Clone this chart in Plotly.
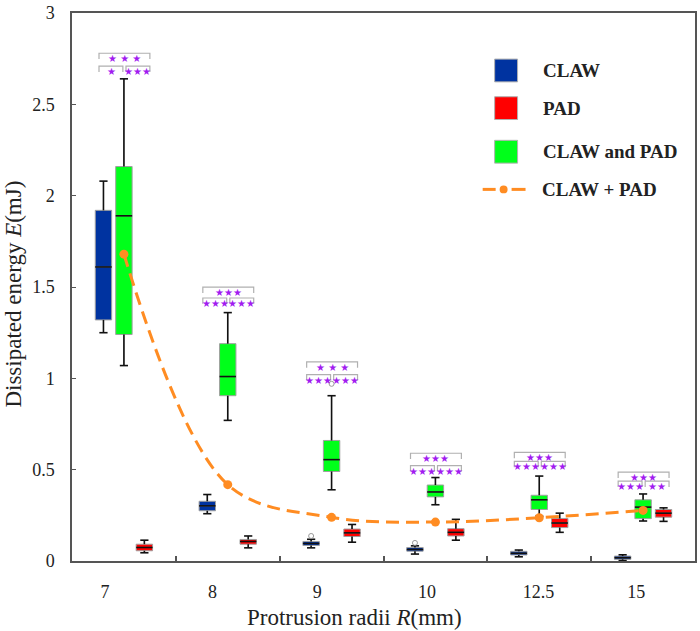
import plotly.graph_objects as go

# ---------------- data ----------------
categories = ["7", "8", "9", "10", "12.5", "15"]

claw_lower  = [1.25, 0.259, 0.072, 0.038, 0.023, 0.002]
claw_q1     = [1.32, 0.275, 0.085, 0.054, 0.033, 0.009]
claw_median = [1.61, 0.302, 0.096, 0.063, 0.042, 0.018]
claw_q3     = [1.92, 0.327, 0.107, 0.074, 0.053, 0.027]
claw_upper  = [2.08, 0.364, 0.119, 0.083, 0.060, 0.034]
claw_outliers = {"9": [0.137], "10": [0.099]}

both_lower  = [1.07, 0.77, 0.39, 0.308, 0.245, 0.219]
both_q1     = [1.24, 0.905, 0.49, 0.351, 0.282, 0.232]
both_median = [1.89, 1.01, 0.555, 0.378, 0.335, 0.295]
both_q3     = [2.16, 1.19, 0.66, 0.416, 0.360, 0.335]
both_upper  = [2.64, 1.36, 0.905, 0.457, 0.465, 0.367]
both_outliers = {"9": [0.97]}

pad_lower  = [0.045, 0.072, 0.103, 0.114, 0.157, 0.217]
pad_q1     = [0.056, 0.092, 0.134, 0.137, 0.183, 0.240]
pad_median = [0.074, 0.107, 0.154, 0.157, 0.208, 0.262]
pad_q3     = [0.092, 0.118, 0.175, 0.177, 0.233, 0.282]
pad_upper  = [0.114, 0.137, 0.200, 0.228, 0.262, 0.291]
pad_outliers = {}

claw_plus_pad = [1.68, 0.418, 0.239, 0.213, 0.237, 0.277]

sig_top   = ["★ ★ ★", "★★★", "★ ★ ★", "★★★", "★★★", "★★★"]
sig_left  = ["★", "★★★", "★★★", "★★★", "★★★", "★★★"]
sig_right = ["★★★", "★★★", "★★★", "★★★", "★★★", "★★"]
sig_top_level   = [2.78, 1.50, 1.09, 0.59, 0.595, 0.487]
sig_lower_level = [2.71, 1.44, 1.02, 0.522, 0.545, 0.437]

y_ticks = [0, 0.5, 1, 1.5, 2, 2.5, 3]
y_tick_labels = ["0", "0.5", "1", "1.5", "2", "2.5", "3"]

# ---------------- styling / layout constants ----------------
FONT = "Liberation Serif"
BLUE, GREEN, RED = "#0033A0", "#00FF1A", "#FF0000"
ORANGE = "#FF8C22"
PURPLE = "#A21CF0"
BOX_W = 0.158
OFFSET = 0.197
idx = list(range(len(categories)))
label_pos = [-0.183, 0.854, 1.862, 2.918, 3.993, 4.934]

fig = go.Figure()

series = [
    ("CLAW", BLUE, -OFFSET, claw_lower, claw_q1, claw_median, claw_q3, claw_upper, claw_outliers),
    ("CLAW and PAD", GREEN, 0.0, both_lower, both_q1, both_median, both_q3, both_upper, both_outliers),
    ("PAD", RED, OFFSET, pad_lower, pad_q1, pad_median, pad_q3, pad_upper, pad_outliers),
]

for name, color, off, lo, q1, med, q3, hi, outl in series:
    xs = [i + off for i in idx]
    fig.add_trace(go.Box(
        name=name, x=xs, q1=q1, median=med, q3=q3, lowerfence=lo, upperfence=hi,
        width=BOX_W, fillcolor=color, line=dict(color="#a0a0a0", width=1),
        whiskerwidth=0, boxpoints=False, showlegend=False, hoverinfo="skip",
    ))
    # black whiskers, caps and medians
    wx, wy = [], []
    for x, a, b, m, c, d in zip(xs, lo, q1, med, q3, hi):
        h = BOX_W / 4
        wx += [x, x, None, x, x, None, x - h, x + h, None, x - h, x + h, None,
               x - BOX_W / 2, x + BOX_W / 2, None]
        wy += [c, d, None, b, a, None, d, d, None, a, a, None, m, m, None]
    fig.add_trace(go.Scatter(x=wx, y=wy, mode="lines", line=dict(color="#111", width=1.6),
                             showlegend=False, hoverinfo="skip"))
    ox, oy = [], []
    for cat, vals in outl.items():
        k = categories.index(cat)
        for v in vals:
            ox.append(k + off)
            oy.append(v)
    if ox:
        fig.add_trace(go.Scatter(x=ox, y=oy, mode="markers",
                                 marker=dict(symbol="circle-open", size=5, color="#999",
                                             line=dict(width=1)),
                                 showlegend=False, hoverinfo="skip"))

fig.add_trace(go.Scatter(
    x=idx, y=claw_plus_pad, mode="lines+markers", name="CLAW + PAD",
    line=dict(color=ORANGE, width=3, dash="13px,7px", shape="spline", smoothing=1.0),
    marker=dict(size=9, color=ORANGE), showlegend=False, hoverinfo="skip",
))

shapes = []
annotations = []
LEG = 0.032
for i in idx:
    t, l = sig_top_level[i], sig_lower_level[i]
    for x0, x1, y in [(i - 0.24, i + 0.25, t), (i - 0.24, i - 0.01, l), (i + 0.02, i + 0.25, l)]:
        shapes.append(dict(type="path", xref="x", yref="y",
                           path=f"M {x0},{y - LEG} L {x0},{y} L {x1},{y} L {x1},{y - LEG}",
                           line=dict(color="#b0b0b0", width=1.2)))
    for x, y, txt in [(i + 0.005, t, sig_top[i]), (i - 0.122, l, sig_left[i]), (i + 0.135, l, sig_right[i])]:
        annotations.append(dict(x=x, y=y - 0.03, xref="x", yref="y", text=txt, showarrow=False,
                                font=dict(family="DejaVu Sans", size=10, color=PURPLE),
                                xanchor="center", yanchor="middle"))

# custom legend (paper coordinates)
def px_x(p):
    return (p - 72) / 625.0

def px_y(p):
    return (561 - p) / 553.0

legend_items = [("CLAW", BLUE, 66), ("PAD", RED, 104), ("CLAW and PAD", GREEN, 148)]
for txt, col, yc in legend_items:
    shapes.append(dict(type="rect", xref="paper", yref="paper",
                       x0=px_x(496), x1=px_x(519), y0=px_y(yc + 11.5), y1=px_y(yc - 11.5),
                       fillcolor=col, line=dict(color="#b0b0b0", width=1)))
    annotations.append(dict(x=px_x(543), y=px_y(yc), xref="paper", yref="paper", text=f"<b>{txt}</b>",
                            showarrow=False, xanchor="left", yanchor="middle",
                            font=dict(family=FONT, size=19, color="#222")))
yl = 186
shapes.append(dict(type="line", xref="paper", yref="paper", x0=px_x(484), x1=px_x(497),
                   y0=px_y(yl), y1=px_y(yl), line=dict(color=ORANGE, width=3)))
shapes.append(dict(type="line", xref="paper", yref="paper", x0=px_x(513), x1=px_x(527),
                   y0=px_y(yl), y1=px_y(yl), line=dict(color=ORANGE, width=3)))
shapes.append(dict(type="circle", xref="paper", yref="paper", x0=px_x(501), x1=px_x(509),
                   y0=px_y(yl + 4), y1=px_y(yl - 4), fillcolor=ORANGE, line=dict(color=ORANGE, width=0)))
annotations.append(dict(x=px_x(542), y=px_y(yl), xref="paper", yref="paper", text="<b>CLAW + PAD</b>",
                        showarrow=False, xanchor="left", yanchor="middle",
                        font=dict(family=FONT, size=19, color="#222")))

# axis titles
annotations.append(dict(x=px_x(355), y=px_y(618), xref="paper", yref="paper",
                        text="Protrusion radii <i>R</i>(mm)", showarrow=False,
                        xanchor="center", yanchor="middle",
                        font=dict(family=FONT, size=23, color="#222")))
annotations.append(dict(x=px_x(13), y=px_y(292), xref="paper", yref="paper",
                        text="Dissipated energy <i>E</i>(mJ)", showarrow=False, textangle=-90,
                        xanchor="center", yanchor="middle",
                        font=dict(family=FONT, size=23, color="#222")))

fig.update_layout(
    width=700, height=631,
    margin=dict(l=72, r=3, t=8, b=70),
    paper_bgcolor="white", plot_bgcolor="white",
    font=dict(family=FONT, size=18, color="#222"),
    shapes=shapes, annotations=annotations,
    showlegend=False,
    xaxis=dict(range=[-0.5, 5.5], tickmode="array", tickvals=label_pos, ticktext=categories,
               ticks="", showgrid=False, zeroline=False, showline=True, linecolor="#555",
               linewidth=1.5, mirror=True, ticklabelstandoff=14,
               tickfont=dict(family=FONT, size=18, color="#222"),
               minor=dict(tickmode="array", tickvals=[0.5, 1.5, 2.5, 3.5, 4.5], ticks="inside",
                          ticklen=5, tickcolor="#555", tickwidth=1.5, showgrid=False)),
    yaxis=dict(range=[0, 3.0005], tickmode="array", tickvals=y_ticks, ticktext=y_tick_labels,
               ticks="inside", ticklen=4, tickcolor="#555", tickwidth=1,
               showgrid=False, zeroline=False, showline=True, linecolor="#555", linewidth=1.5,
               mirror=True, ticklabelstandoff=12, ticklabeloverflow="allow",
               tickfont=dict(family=FONT, size=18, color="#222")),
)

fig.write_html("out.html", config={"displayModeBar": False},
               post_script="document.body.style.margin='0';document.body.style.padding='0';")
